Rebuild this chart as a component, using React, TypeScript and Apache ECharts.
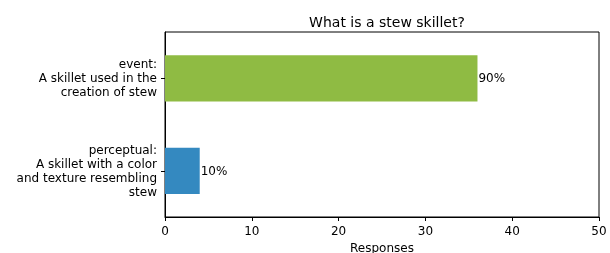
import React, { useEffect, useRef } from "react";
import * as echarts from "echarts";

const categories = [
  "perceptual:\nA skillet with a color\nand texture resembling\nstew",
  "event:\nA skillet used in the\ncreation of stew",
];
const values = [4, 36];
const percentLabels = ["10%", "90%"];
const barColors = ["#3489c0", "#8fbb43"];

export default function App() {
  const ref = useRef<HTMLDivElement>(null);
  useEffect(() => {
    if (!ref.current) return;
    const chart = echarts.init(ref.current, null, { renderer: "svg" });
    const font = "DejaVu Sans";
    chart.setOption({
      animation: false,
      title: {
        text: "What is a stew skillet?",
        left: 382,
        top: 10,
        textAlign: "center",
        textStyle: { fontFamily: font, fontSize: 14, fontWeight: "normal", color: "#000" },
      },
      grid: {
        left: 165,
        right: 11,
        top: 32,
        bottom: 36,
        outerBoundsMode: "none",
        containLabel: false,
        show: true,
        borderColor: "#000",
        borderWidth: 1,
        backgroundColor: "transparent",
      },
      xAxis: {
        type: "value",
        min: 0,
        max: 50,
        interval: 10,
        name: "Responses",
        nameLocation: "middle",
        nameGap: 23,
        nameTextStyle: { fontFamily: font, fontSize: 12, color: "#000" },
        splitLine: { show: false },
        axisLine: { show: true, lineStyle: { color: "#000", width: 1 } },
        axisTick: { show: true, length: 4, lineStyle: { color: "#000" } },
        axisLabel: { fontFamily: font, fontSize: 12, color: "#000", margin: 8 },
      },
      yAxis: {
        type: "category",
        data: categories,
        axisLine: { show: true, lineStyle: { color: "#000", width: 1 } },
        axisTick: { show: true, length: 4, alignWithLabel: true, lineStyle: { color: "#000" } },
        axisLabel: {
          fontFamily: font,
          fontSize: 12,
          color: "#000",
          margin: 8,
          lineHeight: 14,
          align: "right",
        },
      },
      series: [
        {
          type: "bar",
          barWidth: "50%",
          data: values.map((v, i) => ({
            value: v,
            itemStyle: { color: barColors[i] },
            label: { formatter: percentLabels[i] },
          })),
          label: {
            show: true,
            position: "right",
            distance: 1,
            fontFamily: font,
            fontSize: 12,
            color: "#000",
          },
        },
      ],
    });
    return () => chart.dispose();
  }, []);
  return (
    <div
      ref={ref}
      style={{ position: "fixed", left: 0, top: 0, width: 610, height: 253 }}
    />
  );
}
